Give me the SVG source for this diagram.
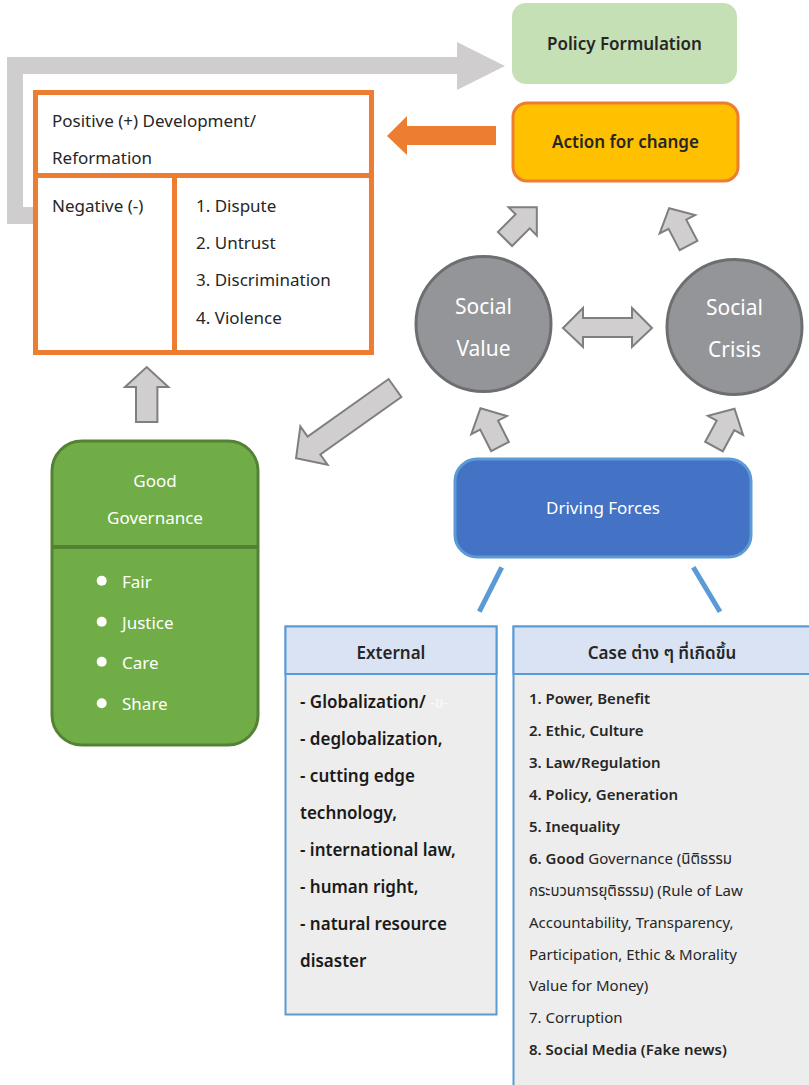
<svg xmlns="http://www.w3.org/2000/svg" width="809" height="1085" viewBox="0 0 809 1085">
<style>
text{font-family:"Noto Sans","Noto Sans Thai","Liberation Sans",sans-serif;}
.t{font-size:17px;fill:#262626;}
.w{font-size:17px;fill:#ffffff;}
.c{font-size:21px;fill:#ffffff;text-anchor:middle;}
.b{font-weight:600;}
.blk{fill:#D0CECE;stroke:#7F7F7F;stroke-width:2;stroke-linejoin:miter;}
.ext{font-size:17px;fill:#1a1a1a;font-weight:600;}
.cs{font-size:15px;fill:#262626;}
</style>
<rect width="809" height="1085" fill="#ffffff"/>

<g id="connectors">
  <polygon points="7,57 457,57 457,42 505,66 457,90 457,74 23,74 23,207 34,207 34,224 7,224" fill="#CFCDCD"/>
  <polygon points="387,136 407,116 407,126 496,126 496,145 407,145 407,155" fill="#ED7D31"/>
  <polygon class="blk" points="0,-10 25,-10 25,-20 45,0 25,20 25,10 0,10" transform="translate(505,239) rotate(-45)"/>
  <polygon class="blk" points="0,-10 24,-10 24,-20 42,0 24,20 24,10 0,10" transform="translate(688.5,245.5) rotate(-117.5)"/>
  <polygon class="blk" points="0,-10 24,-10 24,-20 43,0 24,20 24,10 0,10" transform="translate(500,446.5) rotate(-117)"/>
  <polygon class="blk" points="0,-10 24,-10 24,-20 43,0 24,20 24,10 0,10" transform="translate(714,446.5) rotate(-61.5)"/>
  <polygon class="blk" points="0,-10.7 35,-10.7 35,-21.7 55,0 35,21.7 35,10.7 0,10.7" transform="translate(146.7,422) rotate(-90)"/>
  <polygon class="blk" points="0,-11 99.4,-11 99.4,-23.5 121.4,0 99.4,23.5 99.4,11 0,11" transform="translate(395,388) rotate(144.6)"/>
  <polygon class="blk" points="563,328 583,308 583,318 632,318 632,308 652,328 632,347 632,337 583,337 583,347"/>
  <line x1="501.7" y1="567.3" x2="479.3" y2="611.7" stroke="#5B9BD5" stroke-width="5"/>
  <line x1="693.3" y1="567.3" x2="720" y2="611.7" stroke="#5B9BD5" stroke-width="5"/>
</g>

<g id="policy-formulation">
  <rect x="512" y="3" width="225" height="81" rx="14" fill="#C5E0B4"/>
  <text class="t b" x="624.5" y="50" text-anchor="middle">Policy Formulation</text>
</g>

<g id="action-for-change">
  <rect x="513" y="103" width="225" height="78" rx="14" fill="#FFC000" stroke="#ED7D31" stroke-width="3"/>
  <text class="t b" x="625.5" y="148" text-anchor="middle">Action for change</text>
</g>

<g id="outcome-box">
  <rect x="35.5" y="92.5" width="336" height="260" fill="#ffffff" stroke="#ED7D31" stroke-width="5"/>
  <line x1="35.5" y1="175.5" x2="371.5" y2="175.5" stroke="#ED7D31" stroke-width="5"/>
  <line x1="174.5" y1="175.5" x2="174.5" y2="352.5" stroke="#ED7D31" stroke-width="5"/>
  <text class="t" x="52" y="127">Positive (+) Development/</text>
  <text class="t" x="52" y="164">Reformation</text>
  <text class="t" x="52" y="212">Negative (-)</text>
  <text class="t" x="196" y="212">1. Dispute</text>
  <text class="t" x="196" y="249">2. Untrust</text>
  <text class="t" x="196" y="286">3. Discrimination</text>
  <text class="t" x="196" y="324">4. Violence</text>
</g>

<g id="social-value">
  <circle cx="483.5" cy="324" r="67.5" fill="#939598" stroke="#6D6E70" stroke-width="3"/>
  <text class="c" x="483.5" y="314">Social</text>
  <text class="c" x="483.5" y="356">Value</text>
</g>

<g id="social-crisis">
  <circle cx="734.5" cy="327" r="67.5" fill="#939598" stroke="#6D6E70" stroke-width="3"/>
  <text class="c" x="734.5" y="315">Social</text>
  <text class="c" x="734.5" y="357">Crisis</text>
</g>

<g id="good-governance">
  <rect x="52" y="441" width="206" height="304" rx="30" fill="#70AD47" stroke="#548235" stroke-width="3"/>
  <line x1="52" y1="547" x2="258" y2="547" stroke="#548235" stroke-width="4"/>
  <text class="w" x="155" y="487" text-anchor="middle">Good</text>
  <text class="w" x="155" y="524" text-anchor="middle">Governance</text>
  <circle cx="101.7" cy="580.7" r="5" fill="#ffffff"/>
  <circle cx="101.7" cy="621.7" r="5" fill="#ffffff"/>
  <circle cx="101.7" cy="661.7" r="5" fill="#ffffff"/>
  <circle cx="101.7" cy="703.3" r="5" fill="#ffffff"/>
  <text class="w" x="122" y="588">Fair</text>
  <text class="w" x="122" y="629">Justice</text>
  <text class="w" x="122" y="669">Care</text>
  <text class="w" x="122" y="710">Share</text>
</g>

<g id="driving-forces">
  <rect x="455" y="459" width="296" height="98" rx="22" fill="#4472C4" stroke="#5B9BD5" stroke-width="3"/>
  <text class="w" x="603" y="514" text-anchor="middle" font-size="18">Driving Forces</text>
</g>

<g id="external">
  <rect x="285.5" y="626.5" width="211" height="388" fill="#EDEDED" stroke="#5B9BD5" stroke-width="2"/>
  <rect x="285.5" y="626.5" width="211" height="47.5" fill="#DAE3F3" stroke="#5B9BD5" stroke-width="2"/>
  <text class="t b" x="391" y="659" text-anchor="middle">External</text>
  <text class="ext" x="300" y="708">- Globalization/ <tspan fill="#FAFAFA" font-size="15" font-weight="normal">-ข-</tspan></text>
  <text class="ext" x="300" y="745">- deglobalization,</text>
  <text class="ext" x="300" y="782">- cutting edge</text>
  <text class="ext" x="300" y="819">technology,</text>
  <text class="ext" x="300" y="856">- international law,</text>
  <text class="ext" x="300" y="893">- human right,</text>
  <text class="ext" x="300" y="930">- natural resource</text>
  <text class="ext" x="300" y="967">disaster</text>
</g>

<g id="cases">
  <rect x="513.5" y="626.5" width="300" height="470" fill="#EDEDED" stroke="#5B9BD5" stroke-width="2"/>
  <rect x="513.5" y="626.5" width="300" height="47.5" fill="#DAE3F3" stroke="#5B9BD5" stroke-width="2"/>
  <text class="t b" x="662" y="659" text-anchor="middle">Case ต่าง ๆ ที่เกิดขึ้น</text>
  <text class="cs b" x="529" y="703.5">1. Power, Benefit</text>
  <text class="cs b" x="529" y="735.5">2. Ethic, Culture</text>
  <text class="cs b" x="529" y="767.5">3. Law/Regulation</text>
  <text class="cs b" x="529" y="799.5">4. Policy, Generation</text>
  <text class="cs b" x="529" y="831.5">5. Inequality</text>
  <text class="cs" x="529" y="863.5"><tspan font-weight="600">6. Good</tspan> Governance (นิติธรรม</text>
  <text class="cs" x="529" y="895.5">กระบวนการยุติธรรม) (Rule of Law</text>
  <text class="cs" x="529" y="927.5">Accountability, Transparency,</text>
  <text class="cs" x="529" y="959.5">Participation, Ethic &amp; Morality</text>
  <text class="cs" x="529" y="991">Value for Money)</text>
  <text class="cs" x="529" y="1023">7. Corruption</text>
  <text class="cs b" x="529" y="1055">8. Social Media (Fake news)</text>
</g>
</svg>
